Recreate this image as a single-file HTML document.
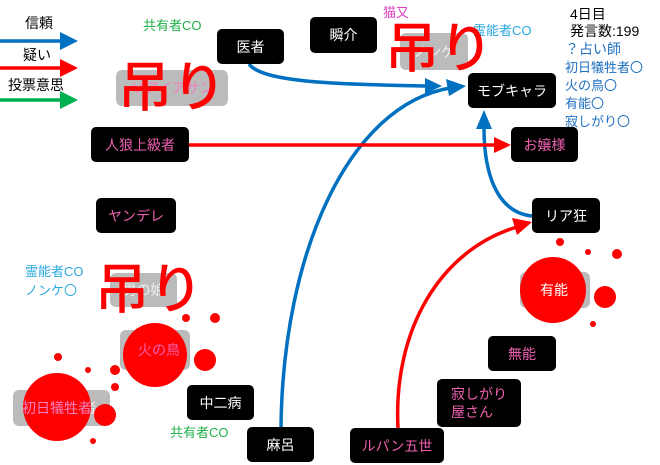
<!DOCTYPE html>
<html><head><meta charset="utf-8"><style>
body{margin:0;width:660px;height:465px;background:#fff;position:relative;overflow:hidden;font-family:"Liberation Sans","Noto Sans CJK JP",sans-serif}
.b{position:absolute;background:#000;border-radius:5px;color:#fff;font-size:14px;display:flex;align-items:center;justify-content:center;box-sizing:border-box}
.p{color:#f060b0}
.g{position:absolute;background:#bbb;border-radius:6px;color:#eee;font-size:14px;display:flex;align-items:center;justify-content:center}
.t{position:absolute;font-size:13px;white-space:nowrap;line-height:18px}
.h{position:absolute;color:#f00;font-size:54px;line-height:1;white-space:nowrap;font-family:"Noto Sans CJK JP",sans-serif;font-weight:500}
.o{font-family:"Noto Sans CJK JP",sans-serif}
svg{position:absolute;left:0;top:0}
</style></head><body>
<div class="g" style="left:116px;top:70px;width:112px;height:36px;color:#f080c0">リアイアサン</div>
<div class="g" style="left:400px;top:33px;width:68px;height:37px">ノンケ</div>
<div class="g" style="left:110px;top:273px;width:67px;height:34px">男の娘</div>
<div class="g" style="left:120px;top:330px;width:70px;height:40px">火の鳥</div>
<div class="g" style="left:13px;top:390px;width:97px;height:36px">初日犠牲者</div>
<div class="g" style="left:520px;top:272px;width:70px;height:36px">有能</div>
<svg width="660" height="465">
<g fill="#f00">
<circle cx="155" cy="355" r="32"/><circle cx="205" cy="360" r="11"/><circle cx="215" cy="318" r="5"/><circle cx="115" cy="370" r="5"/><circle cx="186" cy="318" r="4"/>
<circle cx="57" cy="407" r="34"/><circle cx="105" cy="415" r="11"/><circle cx="58" cy="357" r="4"/><circle cx="88" cy="370" r="3"/><circle cx="93" cy="441" r="3"/><circle cx="115" cy="387" r="4"/>
<circle cx="553" cy="290" r="33"/><circle cx="605" cy="297" r="11"/><circle cx="617" cy="254" r="5"/><circle cx="588" cy="252" r="3"/><circle cx="593" cy="324" r="3"/><circle cx="560" cy="242" r="4"/>
</g>
<g fill="none" stroke-width="3.5">
<path d="M0,41H60" stroke="#0070c0"/><path d="M60,32L78,41L60,50z" fill="#0070c0" stroke="none"/>
<path d="M0,68H60" stroke="#f00"/><path d="M60,59L78,68L60,77z" fill="#f00" stroke="none"/>
<path d="M0,100H60" stroke="#00b050"/><path d="M60,91L78,100L60,109z" fill="#00b050" stroke="none"/>
<path d="M249,64C262,82 330,84 425,86" stroke="#0070c0"/><path d="M425,78L442,86L425,94z" fill="#0070c0" stroke="none"/>
<path d="M281,427C283,250 350,105 450,88" stroke="#0070c0"/><path d="M446,79L466,86L449,96z" fill="#0070c0" stroke="none"/>
<path d="M532,216C495,212 484,170 484,128" stroke="#0070c0"/><path d="M476,129L484,110L492,129z" fill="#0070c0" stroke="none"/>
<path d="M189,145H495" stroke="#f00"/><path d="M494,137L511,145L494,153z" fill="#f00" stroke="none"/>
<path d="M398,428C393,330 440,250 517,227" stroke="#f00"/><path d="M512,218L532,222L517,235z" fill="#f00" stroke="none"/>
</g>
</svg>
<div class="t" style="left:25px;top:14px;font-size:14px">信頼</div>
<div class="t" style="left:23px;top:46px;font-size:14px">疑い</div>
<div class="t" style="left:8px;top:76px;font-size:14px">投票意思</div>
<div class="t" style="left:143px;top:17px;color:#22b04a">共有者CO</div>
<div class="t" style="left:383px;top:4px;color:#e040c0">猫又</div>
<div class="t" style="left:473px;top:22px;color:#2aa8e0">霊能者CO</div>
<div class="t" style="left:570px;top:5px;font-size:14px">4日目</div>
<div class="t" style="left:570px;top:22px;font-size:14px">発言数:199</div>
<div class="t" style="left:565px;top:40px;color:#2070c0;font-size:14px">？占い師</div>
<div class="t" style="left:565px;top:58px;color:#2070c0;line-height:17px">初日犠牲者<span class="o">〇</span><br>火の鳥<span class="o">〇</span><br>有能<span class="o">〇</span><br>寂しがり<span class="o">〇</span></div>
<div class="t" style="left:25px;top:263px;color:#2aa8e0">霊能者CO<br>ノンケ<span class="o">〇</span></div>
<div class="t" style="left:170px;top:424px;color:#22b04a">共有者CO</div>
<div class="b" style="left:217px;top:29px;width:67px;height:35px">医者</div>
<div class="b" style="left:310px;top:17px;width:67px;height:36px">瞬介</div>
<div class="b" style="left:468px;top:73px;width:88px;height:35px">モブキャラ</div>
<div class="b p" style="left:511px;top:127px;width:67px;height:35px">お嬢様</div>
<div class="b" style="left:532px;top:198px;width:68px;height:35px">リア狂</div>
<div class="b p" style="left:91px;top:127px;width:98px;height:35px">人狼上級者</div>
<div class="b p" style="left:96px;top:198px;width:80px;height:35px">ヤンデレ</div>
<div class="b" style="left:187px;top:385px;width:67px;height:35px">中二病</div>
<div class="b" style="left:247px;top:427px;width:67px;height:35px">麻呂</div>
<div class="b p" style="left:350px;top:428px;width:94px;height:35px">ルパン五世</div>
<div class="b p" style="left:437px;top:379px;width:84px;height:48px;justify-content:flex-start;padding-left:14px;line-height:18px">寂しがり<br>屋さん</div>
<div class="b p" style="left:488px;top:336px;width:68px;height:35px">無能</div>
<div class="t" style="left:138px;top:341px;color:#f060b0;font-size:14px">火の鳥</div>
<div class="t" style="left:22px;top:399px;color:#f080c0;font-size:14px">初日犠牲者</div>
<div class="t" style="left:540px;top:281px;color:#fff;font-size:14px">有能</div>
<div class="h" style="left:118px;top:56px">吊り</div>
<div class="h" style="left:385px;top:17px">吊り</div>
<div class="h" style="left:95px;top:258px">吊り</div>
</body></html>
